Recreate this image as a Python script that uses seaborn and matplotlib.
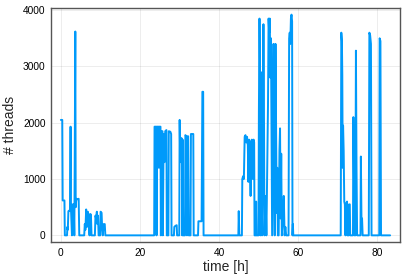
import matplotlib
matplotlib.use('Agg')
import matplotlib.pyplot as plt
import seaborn as sns
import pandas as pd

# thread count samples, one burst of activity per block
hours_a = [0.0, 0.35, 0.45, 0.9, 1.0, 1.55, 1.65, 1.75, 1.9, 2.1, 2.3, 2.45, 2.55, 2.7, 2.8,
           2.95, 3.1, 3.25, 3.4, 3.5, 3.65, 3.75, 3.9, 4.05, 4.5, 4.65,
           5.9, 6.05, 6.2, 6.4, 6.6, 6.8, 6.95, 7.1, 7.25, 7.4, 7.6, 7.75,
           8.6, 8.75, 8.9, 9.1, 9.25, 9.4, 9.55, 9.95, 10.05, 10.3, 10.45, 10.6, 10.8, 11.1, 11.25]
threads_a = [2050, 2050, 620, 620, 0, 0, 150, 100, 430, 440, 430, 1930, 480, 200, 0,
             550, 100, 550, 0, 1300, 3620, 500, 650, 640, 650, 0,
             0, 200, 100, 460, 150, 420, 350, 150, 0, 380, 370, 0,
             0, 350, 300, 420, 200, 350, 0, 0, 420, 400, 100, 0, 200, 200, 0]

hours_b = [23.6, 23.7, 24.1, 24.2, 24.3, 24.7, 24.8, 24.9, 25.2, 25.3, 25.4, 25.7, 25.8,
           26.0, 26.2, 26.4, 26.7, 26.8, 27.2, 27.3, 27.7, 27.9, 28.0, 28.6, 28.7, 29.0,
           29.3, 29.4, 29.95, 30.05, 30.2, 30.4, 30.6, 30.7, 30.8, 30.95, 31.4, 31.5, 31.8,
           31.9, 32.0, 32.2, 32.35, 32.8, 32.9, 33.5, 33.6, 34.7, 34.8, 35.6, 35.8, 36.0, 36.1]
threads_b = [0, 1930, 1930, 0, 1930, 1930, 1200, 1930, 1930, 0, 1850, 1850, 0,
             1800, 1300, 1850, 1870, 0, 0, 1850, 1840, 1800, 0, 0, 150, 170,
             180, 0, 0, 2050, 1300, 1730, 1720, 0, 1700, 0, 0, 1780, 1750,
             0, 1760, 1760, 0, 0, 1800, 1800, 0, 0, 250, 250, 2550, 2550, 0]

hours_c = [44.9, 45.0, 45.15, 45.8, 45.9, 46.1, 46.3, 46.5, 46.7, 46.9, 47.1, 47.3, 47.45,
           47.6, 47.8, 48.0, 48.1, 48.3, 48.5, 48.6, 48.75, 48.9, 49.0, 49.3, 49.4, 49.5,
           50.0, 50.1, 50.25, 50.35, 50.5, 50.6, 50.75, 50.9, 51.1, 51.25, 51.4, 51.5, 51.8,
           52.0, 52.4, 52.55, 52.7, 52.85, 53.0, 53.15, 53.3, 53.45, 53.6, 53.8, 53.95, 54.1,
           54.3, 54.45, 54.6, 54.75, 54.9, 55.1, 55.3, 55.45, 55.6, 55.75, 55.9, 56.1, 56.4,
           56.6, 56.8, 57.0, 57.6, 57.75, 57.9, 58.05, 58.2, 58.35, 58.5, 58.6, 58.7, 58.8]
threads_c = [0, 430, 0, 0, 1000, 1050, 1000, 1750, 1780, 1650, 1750, 1600, 950,
             1700, 1650, 700, 1650, 1700, 1650, 1000, 1700, 1650, 0, 0, 600, 0,
             0, 2200, 3850, 3100, 0, 2900, 1800, 0, 1400, 3750, 1900, 0, 700,
             0, 2300, 3850, 3600, 3850, 2800, 3500, 1800, 0, 1500, 3400, 1100, 0,
             3400, 2000, 400, 1200, 0, 0, 1500, 1900, 300, 1450, 0, 200, 700,
             0, 150, 0, 0, 3500, 3600, 3400, 3850, 3920, 3800, 0, 200, 0]

hours_d = [70.8, 70.95, 71.1, 71.2, 71.3, 71.4, 71.55, 71.7, 71.85, 72.0, 72.1, 72.4, 72.5,
           72.8, 72.9, 73.1, 73.2, 73.9, 74.0, 74.15, 74.3, 74.5, 74.65, 74.8, 74.95,
           75.8, 75.9, 76.05, 76.2, 76.35, 77.9, 78.05, 78.25, 78.45, 78.6,
           80.55, 80.65, 80.85, 81.0, 83.3]
threads_d = [0, 3600, 3450, 2850, 1200, 1950, 1500, 600, 550, 0, 550, 600, 0,
             0, 550, 550, 0, 0, 2100, 1000, 0, 0, 3280, 1200, 0,
             0, 1400, 300, 300, 0, 0, 3600, 3550, 3400, 0,
             0, 3500, 3450, 0, 0]

df = pd.DataFrame({
    'time': hours_a + hours_b + hours_c + hours_d,
    'threads': threads_a + threads_b + threads_c + threads_d,
})

sns.set_style('white')
plt.rcParams['font.family'] = ['Liberation Sans', 'DejaVu Sans']

fig = plt.figure(figsize=(4.10, 2.74), dpi=100)
ax = fig.add_axes([0.1244, 0.1168, 0.8512, 0.854])

sns.lineplot(data=df, x='time', y='threads', estimator=None, sort=False,
             color='#009AFA', linewidth=1.4, ax=ax)

ax.set_xlim(-2.5, 85.8)
ax.set_ylim(-118, 4038)
ax.set_xticks([0, 20, 40, 60, 80])
ax.set_yticks([0, 1000, 2000, 3000, 4000])
ax.grid(True, color='black', alpha=0.1, linewidth=0.5)
ax.set_axisbelow(True)

for side in ['left', 'bottom', 'top', 'right']:
    ax.spines[side].set_color('#555555')
    ax.spines[side].set_linewidth(1.0)
ax.tick_params(direction='in', length=3, width=0.6, color='#555555',
               labelsize=7.3, labelcolor='black', pad=4)

ax.set_xlabel('time [h]', fontsize=10, labelpad=2)
ax.set_ylabel('# threads', fontsize=10, labelpad=4)

fig.savefig('out.png', dpi=100)
